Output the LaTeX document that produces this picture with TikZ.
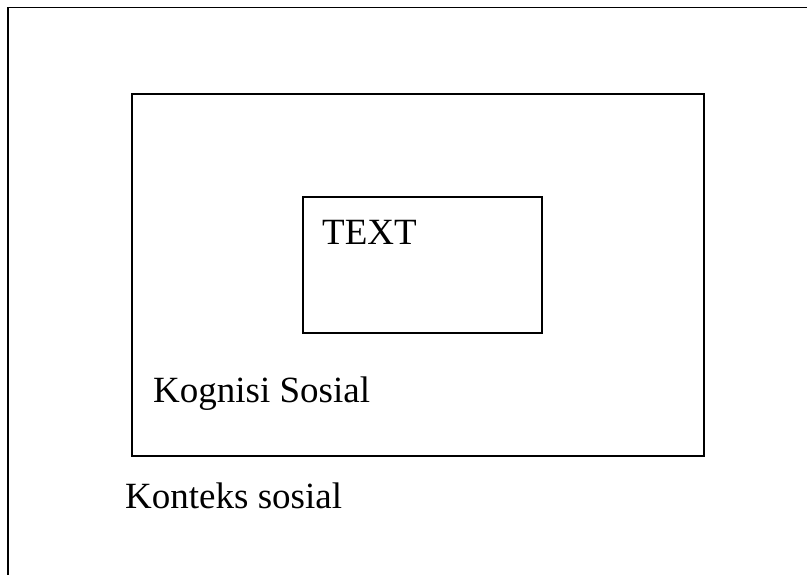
\documentclass[tikz,border=0pt]{standalone}
\usepackage{fontspec}
\setmainfont{Liberation Serif}
\begin{document}
\begin{tikzpicture}[x=1pt,y=-1pt,
  box/.style={draw=black, line width=1.5pt, inner sep=0pt},
  lbl/.style={anchor=base west, inner sep=0pt, font=\fontsize{37}{44}\selectfont}]
\useasboundingbox (0,0) rectangle (807,575);
\fill[white] (0,0) rectangle (807,575);
% outer context frame (continues past the picture's right and bottom edges)
\coordinate (ob) at (8,575);
\coordinate (oc) at (8,7.5);
\coordinate (or) at (807,7.5);
\draw[line width=1.5pt] (ob) -- (oc) -- (or);
\node[box, minimum width=572pt, minimum height=362pt] (mid) at (418,275) {};
\node[box, minimum width=239pt, minimum height=136pt] (inner) at (422.5,265) {};
\node[lbl] (text) at (322,244) {TEXT};
\node[lbl] (kog) at (153,402) {Kognisi Sosial};
\node[lbl] (kon) at (125,508) {Konteks sosial};
\end{tikzpicture}
\end{document}
